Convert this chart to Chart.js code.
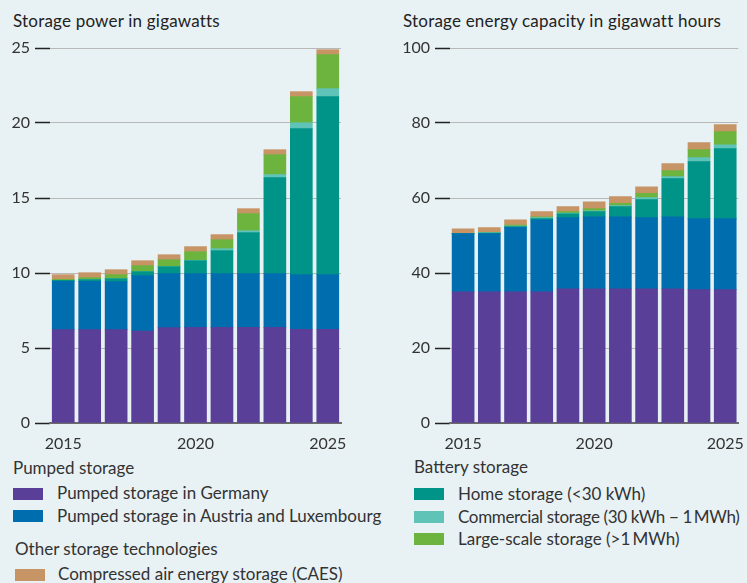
<!DOCTYPE html>
<html><head><meta charset="utf-8">
<script src="https://cdn.jsdelivr.net/npm/chart.js@4.4.0/dist/chart.umd.min.js"></script>
<style>
body{margin:0;background:#e8f1f3;width:747px;height:583px;overflow:hidden;font-family:Lato,sans-serif;color:#333;position:relative}
.t{position:absolute;font-size:17px;line-height:20px;white-space:nowrap}
.h{color:#222;letter-spacing:0.2px}
.sw{position:absolute;width:30px;height:12px}
.box{position:absolute}
</style></head><body>
<div class="t h" style="left:13px;top:11px">Storage power in gigawatts</div>
<div class="t h" style="left:403px;top:11px">Storage energy capacity in gigawatt hours</div>
<div class="box" style="left:0;top:30px;width:350px;height:420px"><canvas id="c1"></canvas></div>
<div class="box" style="left:400px;top:30px;width:347px;height:420px"><canvas id="c2"></canvas></div>

<div class="t" style="left:13px;top:458px">Pumped storage</div>
<div class="sw" style="left:13px;top:488px;background:#5a3f99"></div>
<div class="t" style="left:57px;top:483px">Pumped storage in Germany</div>
<div class="sw" style="left:13px;top:510px;background:#006eae"></div>
<div class="t" style="left:57px;top:506px">Pumped storage in Austria and Luxembourg</div>
<div class="t" style="left:15px;top:539px">Other storage technologies</div>
<div class="sw" style="left:15px;top:569px;background:#c79466"></div>
<div class="t" style="left:58px;top:564px">Compressed air energy storage (CAES)</div>

<div class="t" style="left:414px;top:457px">Battery storage</div>
<div class="sw" style="left:414px;top:488px;background:#009488"></div>
<div class="t" style="left:458px;top:484px">Home storage (&lt;30 kWh)</div>
<div class="sw" style="left:414px;top:511px;background:#5fc3b8"></div>
<div class="t" style="left:458px;top:507px;letter-spacing:-0.35px">Commercial storage (30 kWh − 1&#8201;MWh)</div>
<div class="sw" style="left:414px;top:533px;background:#6db43f"></div>
<div class="t" style="left:458px;top:529px">Large-scale storage (&gt;1&#8201;MWh)</div>

<script>
const years = ['2015','2016','2017','2018','2019','2020','2021','2022','2023','2024','2025'];
const shownYears = ['2015','2020','2025'];

// Storage power (GW)
const powerGermany    = [6.22,6.22,6.22,6.13,6.36,6.38,6.38,6.38,6.38,6.24,6.24];
const powerAustriaLux = [3.22,3.22,3.20,3.69,3.60,3.58,3.58,3.58,3.58,3.65,3.65];
const powerHome       = [0.07,0.12,0.20,0.27,0.46,0.86,1.53,2.73,6.40,9.73,11.87];
const powerCommercial = [0.00,0.00,0.00,0.00,0.00,0.03,0.13,0.13,0.20,0.40,0.53];
const powerLarge      = [0.07,0.13,0.27,0.40,0.47,0.57,0.60,1.14,1.33,1.74,2.27];
const powerCAES       = [0.31,0.33,0.33,0.33,0.33,0.34,0.34,0.33,0.33,0.33,0.33];

// Storage energy capacity (GWh)
const energyGermany    = [35.0,35.0,35.0,35.0,35.8,35.8,35.8,35.8,35.8,35.56,35.56];
const energyAustriaLux = [15.5,15.5,17.2,19.2,18.96,19.2,19.2,18.96,19.2,18.94,18.94];
const energyHome       = [0.0,0.15,0.2,0.3,1.04,1.36,2.7,4.8,10.16,15.2,18.66];
const energyCommercial = [0.0,0.1,0.1,0.26,0.2,0.24,0.26,0.54,0.54,1.06,1.04];
const energyLarge      = [0.0,0.0,0.3,0.24,0.36,0.56,0.64,1.14,1.6,2.14,3.5];
const energyCAES       = [1.3,1.34,1.36,1.36,1.34,1.84,1.76,1.76,1.86,1.86,1.86];

const powerTicks = [0,5,10,15,20,25];
const energyTicks = [0,20,40,60,80,100];

const colors = {
  germany:'#5a3f99', austria:'#006eae', home:'#009488',
  commercial:'#5fc3b8', large:'#6db43f', caes:'#c79466'
};

function ds(label, data, color){
  return {label, data, backgroundColor:color, borderWidth:0, barThickness:22, stack:'s'};
}

function makeChart(id, series, tickVals){
  const max = tickVals[tickVals.length-1];
  const step = tickVals[1]-tickVals[0];
  new Chart(document.getElementById(id), {
    type:'bar',
    data:{
      labels: years,
      datasets:[
        ds('Pumped storage in Germany', series[0], colors.germany),
        ds('Pumped storage in Austria and Luxembourg', series[1], colors.austria),
        ds('Home storage (<30 kWh)', series[2], colors.home),
        ds('Commercial storage (30 kWh − 1 MWh)', series[3], colors.commercial),
        ds('Large-scale storage (>1 MWh)', series[4], colors.large),
        ds('Compressed air energy storage (CAES)', series[5], colors.caes)
      ]
    },
    options:{
      responsive:true, maintainAspectRatio:false, animation:false,
      layout:{padding:{top:18,right:id==='c1'?9:5,left:0,bottom:0}},
      plugins:{legend:{display:false}, tooltip:{enabled:false}},
      scales:{
        x:{
          stacked:true,
          grid:{display:false},
          border:{display:true,color:'#6b6b6b',width:2},
          ticks:{
            autoSkip:false,maxRotation:0,padding:3,color:'#333',
            font:{family:'Lato',size:16},
            callback:function(v){const l=this.getLabelForValue(v);return shownYears.includes(l)?l:'';}
          },
          afterFit:(s)=>{s.height=27;}
        },
        y:{
          stacked:true,min:0,max:max,
          grid:{color:'#b8b8b8',lineWidth:1,tickColor:'#222',tickLength:15,tickWidth:1.5},
          border:{display:false},
          ticks:{stepSize:step,padding:5,color:'#333',font:{family:'Lato',size:16}},
          afterFit:(s)=>{s.width=50;}
        }
      }
    }
  });
}

makeChart('c1',[powerGermany,powerAustriaLux,powerHome,powerCommercial,powerLarge,powerCAES],powerTicks);
makeChart('c2',[energyGermany,energyAustriaLux,energyHome,energyCommercial,energyLarge,energyCAES],energyTicks);
</script>
</body></html>
